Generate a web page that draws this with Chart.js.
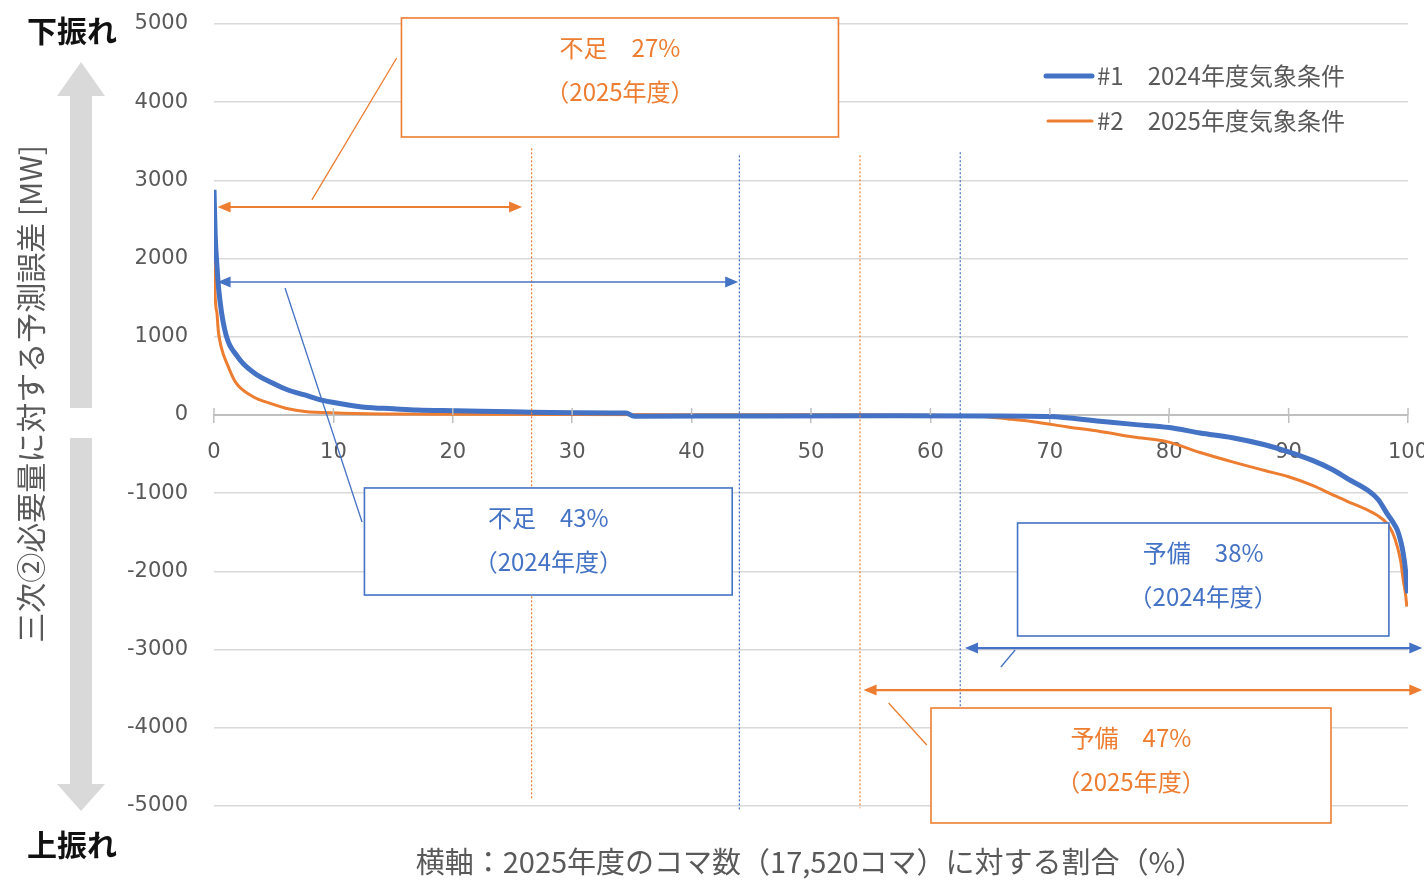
<!DOCTYPE html>
<html lang="ja">
<head>
<meta charset="utf-8">
<title>三次②必要量に対する予測誤差</title>
<script src="https://cdn.jsdelivr.net/npm/chart.js"></script>
<style>
  html, body { margin: 0; padding: 0; background: #fff; }
  #wrap { width: 1424px; height: 881px; position: relative; }
</style>
</head>
<body>
<div id="wrap"><canvas id="errorChart"></canvas></div>
<script>
// Sorted forecast error curves (x: % of 17,520 frames, y: MW)
const pct2024 = [0, 0.1, 0.25, 0.4, 0.9, 2.0, 3.4, 4.9, 6.2, 7.6, 9.0, 10.4, 12.6, 15, 17, 20.3, 25, 30, 34.5, 35.2, 45, 57, 65, 70, 74.2, 77, 80, 82.6, 85.3, 88, 90, 92, 93.7, 95, 96.6, 97.5, 98.2, 98.7, 99.1, 99.4, 99.6, 99.8, 99.9, 100];
const err2024 = [2880, 2300, 1900, 1600, 1090, 740, 535, 410, 320, 256, 190, 150, 100, 80, 64, 55, 40, 30, 25, -15, -12, -10, -12, -20, -80, -120, -160, -230, -290, -380, -470, -580, -700, -820, -960, -1080, -1250, -1360, -1470, -1620, -1770, -2000, -2200, -2280];

const pct2025 = [0, 0.05, 0.15, 0.25, 0.35, 0.6, 1.2, 1.8, 3.2, 4.9, 6.2, 7.6, 10.4, 15, 20, 30, 40, 50, 60, 62, 64.4, 66.5, 68.6, 71.4, 74.2, 77, 79.8, 82.6, 85.3, 88, 90, 92, 93.7, 95, 96.6, 97.5, 98.2, 98.7, 99.1, 99.4, 99.6, 99.8, 99.9];
const err2025 = [2560, 1800, 1400, 1300, 1090, 870, 615, 420, 240, 140, 80, 45, 25, 12, 8, 5, 3, 2, -2, -8, -20, -50, -85, -150, -210, -280, -340, -480, -600, -710, -790, -900, -1020, -1110, -1215, -1290, -1380, -1500, -1680, -1880, -2110, -2300, -2450];

const seriesNames = ['#1\u30002024年度気象条件', '#2\u30002025年度気象条件'];
const yTicks = [-5000, -4000, -3000, -2000, -1000, 0, 1000, 2000, 3000, 4000, 5000];

const BLUE = '#4472C4';
const ORANGE = '#ED7D31';
const JP = '"Noto Sans CJK JP", "Noto Sans", sans-serif';

// Annotation layout, in chart units (x: %, y: MW)
const dividers = [
    { x: 26.6, from: 3410, to: -4920, color: ORANGE },
    { x: 44.0, from: 3320, to: -5050, color: BLUE },
    { x: 54.1, from: 3320, to: -5030, color: ORANGE },
    { x: 62.5, from: 3360, to: -3740, color: BLUE }
];
const spans = [
    { y: 2660, x1: 0.3, x2: 25.8, color: ORANGE, width: 2.2 },
    { y: 1700, x1: 0.3, x2: 43.9, color: BLUE, width: 1.6 },
    { y: -2980, x1: 62.9, x2: 101.2, color: BLUE, width: 2.2 },
    { y: -3517, x1: 54.4, x2: 101.2, color: ORANGE, width: 2.2 }
];
const callouts = [
    { x1: 15.7, x2: 52.3, y1: 5077, y2: 3555, color: ORANGE, lines: ['不足\u300027%', '（2025年度）'],
      leader: [15.3, 4565, 8.2, 2750] },
    { x1: 12.6, x2: 43.4, y1: -933, y2: -2302, color: BLUE, lines: ['不足\u300043%', '（2024年度）'],
      leader: [5.95, 1624, 12.4, -1368] },
    { x1: 67.3, x2: 98.4, y1: -1381, y2: -2826, color: BLUE, lines: ['予備\u300038%', '（2024年度）'],
      leader: [65.9, -3222, 67.1, -3005] },
    { x1: 60.05, x2: 93.55, y1: -3747, y2: -5217, color: ORANGE, lines: ['予備\u300047%', '（2025年度）'],
      leader: [56.5, -3683, 59.7, -4220] }
];

function toPoints(xs, ys) {
    return xs.map((x, i) => ({ x: x, y: ys[i] }));
}

function arrowHead(ctx, x, y, dir, len, half) {
    ctx.beginPath();
    ctx.moveTo(x, y);
    ctx.lineTo(x - dir * len, y - half);
    ctx.lineTo(x - dir * len, y + half);
    ctx.closePath();
    ctx.fill();
}

const decorations = {
    id: 'decorations',
    afterDraw(chart) {
        const ctx = chart.ctx;
        const xs = chart.scales.x;
        const ys = chart.scales.y;
        const area = chart.chartArea;
        const zeroY = ys.getPixelForValue(0);
        ctx.save();

        // upper half of the x tick marks
        ctx.strokeStyle = '#BFBFBF';
        ctx.lineWidth = 1.5;
        xs.ticks.forEach(t => {
            const px = xs.getPixelForValue(t.value);
            ctx.beginPath();
            ctx.moveTo(px, zeroY - 7);
            ctx.lineTo(px, zeroY);
            ctx.stroke();
        });

        // dotted dividers
        ctx.lineWidth = 1.2;
        ctx.setLineDash([2, 2]);
        dividers.forEach(d => {
            const px = xs.getPixelForValue(d.x);
            ctx.strokeStyle = d.color;
            ctx.beginPath();
            ctx.moveTo(px, ys.getPixelForValue(d.from));
            ctx.lineTo(px, ys.getPixelForValue(d.to));
            ctx.stroke();
        });
        ctx.setLineDash([]);

        // double-headed range arrows
        spans.forEach(s => {
            const py = ys.getPixelForValue(s.y);
            const a = xs.getPixelForValue(s.x1);
            const b = xs.getPixelForValue(s.x2);
            ctx.strokeStyle = s.color;
            ctx.fillStyle = s.color;
            ctx.lineWidth = s.width;
            ctx.beginPath();
            ctx.moveTo(a + 8, py);
            ctx.lineTo(b - 8, py);
            ctx.stroke();
            arrowHead(ctx, a, py, -1, 13, 5.5);
            arrowHead(ctx, b, py, 1, 13, 5.5);
        });

        // callout boxes with leader lines
        callouts.forEach(c => {
            const l = xs.getPixelForValue(c.x1);
            const r = xs.getPixelForValue(c.x2);
            const t = ys.getPixelForValue(c.y1);
            const b = ys.getPixelForValue(c.y2);
            ctx.strokeStyle = c.color;
            ctx.lineWidth = 1.3;
            ctx.beginPath();
            ctx.moveTo(xs.getPixelForValue(c.leader[0]), ys.getPixelForValue(c.leader[1]));
            ctx.lineTo(xs.getPixelForValue(c.leader[2]), ys.getPixelForValue(c.leader[3]));
            ctx.stroke();
            ctx.fillStyle = '#fff';
            ctx.fillRect(l, t, r - l, b - t);
            ctx.lineWidth = 1.6;
            ctx.strokeRect(l, t, r - l, b - t);
            ctx.fillStyle = c.color;
            ctx.font = '24px ' + JP;
            ctx.textAlign = 'center';
            ctx.textBaseline = 'middle';
            ctx.fillText(c.lines[0], (l + r) / 2, t + 30);
            ctx.fillText(c.lines[1], (l + r) / 2, t + 74);
        });

        // legend
        const legendX = area.right - 362;
        chart.data.datasets.forEach((ds, i) => {
            const ly = 76 + i * 45;
            ctx.strokeStyle = ds.borderColor;
            ctx.lineWidth = ds.borderWidth;
            ctx.lineCap = 'round';
            ctx.beginPath();
            ctx.moveTo(legendX + (i ? 2 : 0), ly);
            ctx.lineTo(legendX + 46, ly);
            ctx.stroke();
            ctx.lineCap = 'butt';
            ctx.fillStyle = '#595959';
            ctx.font = '24px ' + JP;
            ctx.textAlign = 'left';
            ctx.textBaseline = 'middle';
            ctx.fillText(ds.label, legendX + 51, ly);
        });

        // up / down direction arrows beside the y axis
        ctx.fillStyle = '#D9D9D9';
        ctx.fillRect(70, 95, 22, zeroY - 7 - 95);
        ctx.beginPath();
        ctx.moveTo(57, 96); ctx.lineTo(105, 96); ctx.lineTo(81, 62); ctx.closePath();
        ctx.fill();
        ctx.fillRect(70, zeroY + 23, 22, 785 - zeroY - 23);
        ctx.beginPath();
        ctx.moveTo(57, 784); ctx.lineTo(105, 784); ctx.lineTo(81, 811); ctx.closePath();
        ctx.fill();

        ctx.fillStyle = '#111';
        ctx.font = 'bold 30px ' + JP;
        ctx.textAlign = 'left';
        ctx.textBaseline = 'middle';
        ctx.fillText('下振れ', 27, 31);
        ctx.fillText('上振れ', 27, 845);

        // axis titles
        ctx.fillStyle = '#595959';
        ctx.font = '30px ' + JP;
        ctx.textAlign = 'center';
        ctx.save();
        ctx.translate(31, 394);
        ctx.rotate(-Math.PI / 2);
        ctx.fillText('三次②必要量に対する予測誤差 [MW]', 0, 0);
        ctx.restore();
        ctx.font = '29px ' + JP;
        ctx.fillText('横軸：2025年度のコマ数（17,520コマ）に対する割合（%）', 810, 862);

        ctx.restore();
    }
};

const chart = new Chart(document.getElementById('errorChart'), {
    type: 'line',
    data: {
        datasets: [
            {
                label: seriesNames[0],
                data: toPoints(pct2024, err2024),
                borderColor: BLUE,
                borderWidth: 5,
                pointRadius: 0,
                cubicInterpolationMode: 'monotone'
            },
            {
                label: seriesNames[1],
                data: toPoints(pct2025, err2025),
                borderColor: ORANGE,
                borderWidth: 3,
                pointRadius: 0,
                cubicInterpolationMode: 'monotone'
            }
        ]
    },
    options: {
        responsive: true,
        maintainAspectRatio: false,
        animation: false,
        layout: { padding: { top: 24, right: 16, bottom: 75, left: 0 } },
        plugins: {
            legend: { display: false },
            tooltip: { enabled: false }
        },
        scales: {
            x: {
                type: 'linear',
                position: { y: 0 },
                min: 0,
                max: 100,
                ticks: {
                    stepSize: 10,
                    color: '#595959',
                    font: { family: '"DejaVu Sans", sans-serif', size: 21 },
                    padding: 18,
                    maxRotation: 0,
                    callback: v => String(v)
                },
                grid: { drawOnChartArea: false, tickLength: 7, color: '#BFBFBF', lineWidth: 1.5 },
                border: { color: '#BFBFBF', width: 2 },
                afterFit: s => { s.paddingLeft = 0; s.paddingRight = 0; s.paddingTop = 0; s.paddingBottom = 0; }
            },
            y: {
                min: -5000,
                max: 5000,
                afterBuildTicks: s => { s.ticks = yTicks.map(v => ({ value: v })); },
                ticks: {
                    color: '#595959',
                    font: { family: '"DejaVu Sans", sans-serif', size: 21 },
                    padding: 26,
                    callback: v => String(v)
                },
                grid: { color: '#D9D9D9', lineWidth: 1.5, drawTicks: false },
                border: { display: false },
                afterFit: s => { s.width = 214; s.paddingTop = 0; s.paddingBottom = 0; }
            }
        }
    },
    plugins: [decorations]
});
</script>
</body>
</html>
